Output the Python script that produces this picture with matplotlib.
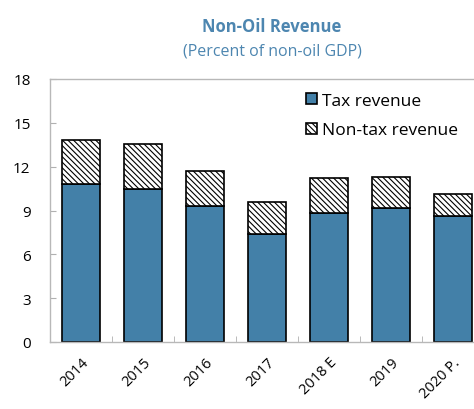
import numpy as np
import matplotlib
matplotlib.use("Agg")
import matplotlib.pyplot as plt

plt.rcParams['font.family'] = ['Open Sans', 'DejaVu Sans']
plt.rcParams['hatch.linewidth'] = 0.8

years = ["2014", "2015", "2016", "2017", "2018 E", "2019", "2020 P."]
tax = [10.8, 10.5, 9.3, 7.4, 8.8, 9.2, 8.6]
non_tax = [3.0, 3.05, 2.4, 2.2, 2.4, 2.1, 1.5]

blue = "#4380a8"
title_col = "#4d86b0"

fig = plt.figure(figsize=(4.74, 4.10), dpi=100)
# axes runs a bit past the right edge, like the cropped original
ax = fig.add_axes([50 / 474, 1 - 343 / 410, 434 / 474, 263 / 410])

x = np.arange(len(years))
ax.bar(x, tax, width=0.6, color=blue, edgecolor="black", linewidth=1.2,
       label="Tax revenue", zorder=2)
ax.bar(x, non_tax, bottom=tax, width=0.6, color="white", edgecolor="black",
       hatch="\\" * 6, linewidth=1.2, label="Non-tax revenue", zorder=2)

ax.set_xlim(-0.5, len(years) - 0.5)
ax.set_ylim(0, 18)
ax.set_yticks(np.arange(0, 19, 3))
ax.set_xticks(x)
ax.set_xticklabels(years, rotation=45, ha="right", rotation_mode="anchor",
                   fontsize=10.5)
ax.set_xticks(np.arange(0.5, len(years) - 0.5, 1), minor=True)
ax.tick_params(axis="x", which="major", length=0, pad=9)
ax.tick_params(axis="x", which="minor", direction="in", length=4,
               color="#b0b0b0")
ax.tick_params(axis="y", direction="in", length=4, color="#b0b0b0",
               labelsize=11, pad=14)

for s in ax.spines.values():
    s.set_color("#b8b8b8")
    s.set_linewidth(1.0)

fig.text(272 / 474, 1 - 27 / 410, "Non-Oil Revenue", ha="center", va="center",
         fontsize=12, fontweight="bold", color=title_col)
fig.text(272 / 474, 1 - 51 / 410, "(Percent of non-oil GDP)", ha="center",
         va="center", fontsize=11.5, color=title_col)

leg = ax.legend(loc="upper left", bbox_to_anchor=(0.573, 0.975), frameon=False,
                fontsize=12.5, handlelength=0.65, handleheight=0.65,
                handletextpad=0.3, labelspacing=0.8, borderaxespad=0)

fig.savefig("out.png", dpi=100)
